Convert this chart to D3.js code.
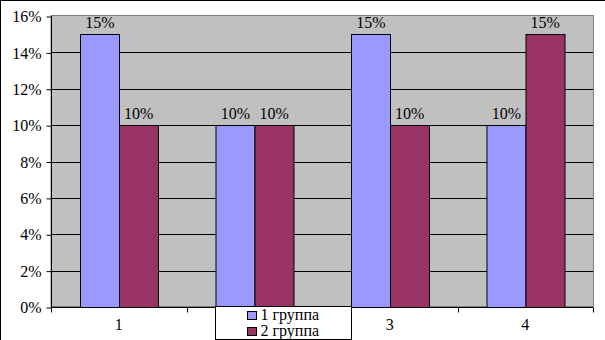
<!DOCTYPE html>
<html>
<head>
<meta charset="utf-8">
<script src="https://cdn.jsdelivr.net/npm/d3@7"></script>
<style>
  body { margin: 0; background: #fff; }
  text { font-family: 'Liberation Serif'; font-size: 16px; }
</style>
</head>
<body>
<div id="chart"></div>
<script>
// data
var categories = ["1", "2", "3", "4"];
var seriesNames = ["1 группа", "2 группа"];
var group1 = [0.15, 0.10, 0.15, 0.10];
var group2 = [0.10, 0.10, 0.10, 0.15];
var yTicks = [0, 0.02, 0.04, 0.06, 0.08, 0.10, 0.12, 0.14, 0.16];
var colors = ["#9999ff", "#993366"];

var width = 605, height = 340;
var plot = { left: 51, right: 593, top: 16, bottom: 307 };

var svg = d3.select("#chart").append("svg")
    .attr("width", width)
    .attr("height", height);

// outer border
svg.append("rect")
    .attr("x", 0.5).attr("y", 0.5)
    .attr("width", width + 10).attr("height", height + 10)
    .attr("fill", "#fff")
    .attr("stroke", "#000");

var x = d3.scaleBand()
    .domain(categories)
    .range([plot.left, plot.right]);

var x1 = d3.scaleBand()
    .domain([0, 1])
    .range([0, x.bandwidth()])
    .paddingOuter(0.75);

var y = d3.scaleLinear()
    .domain([0, 0.16])
    .range([plot.bottom, plot.top]);

// plot area
svg.append("rect")
    .attr("x", plot.left).attr("y", plot.top - 0.5)
    .attr("width", plot.right - plot.left + 0.5)
    .attr("height", plot.bottom - plot.top)
    .attr("fill", "#c0c0c0")
    .attr("stroke", "#808080");

// gridlines
svg.append("g")
    .selectAll("line")
    .data(yTicks.slice(1, -1))
    .join("line")
    .attr("x1", plot.left).attr("x2", plot.right)
    .attr("y1", d => Math.round(y(d)) + 0.5)
    .attr("y2", d => Math.round(y(d)) + 0.5)
    .attr("stroke", "#000");

// bars
var rows = categories.map((c, i) => [group1[i], group2[i]]);
var gCat = svg.append("g").selectAll("g")
    .data(rows)
    .join("g")
    .attr("transform", (d, i) => `translate(${x(categories[i])},0)`);

gCat.selectAll("rect")
    .data(d => d)
    .join("rect")
    .attr("x", (d, j) => Math.round(x1(j)) + 0.5)
    .attr("y", d => Math.round(y(d)) + 0.5)
    .attr("width", Math.round(x1.bandwidth()))
    .attr("height", d => Math.round(y(0)) - Math.round(y(d)))
    .attr("fill", (d, j) => colors[j])
    .attr("stroke", "#000");

gCat.selectAll("text")
    .data(d => d)
    .join("text")
    .attr("x", (d, j) => x1(j) + x1.bandwidth() / 2 + 0.5)
    .attr("y", d => y(d) - 6)
    .attr("text-anchor", "middle")
    .text(d => d3.format(".0%")(d));

// y axis
var yAxis = d3.axisLeft(y)
    .tickValues(yTicks)
    .tickFormat(d3.format(".0%"))
    .tickSize(5)
    .tickPadding(5);

var gy = svg.append("g")
    .attr("transform", `translate(${plot.left + 0.5},0.5)`)
    .call(yAxis);
gy.select(".domain").attr("d", `M0,${plot.top - 0.5}V${plot.bottom - 0.5}`);
gy.selectAll("text").attr("fill", "#000");

// x axis
var xAxis = d3.axisBottom(x)
    .tickSize(0)
    .tickPadding(11);

var gx = svg.append("g")
    .attr("transform", `translate(0,${plot.bottom + 0.5})`)
    .call(xAxis);
gx.select(".domain").attr("d", `M${plot.left},0H${plot.right}`);
gx.selectAll("text").attr("fill", "#000");

// x tick marks at category boundaries
var boundaries = categories.map(c => x(c)).concat([plot.right]);
gx.append("g").selectAll("line")
    .data(boundaries)
    .join("line")
    .attr("x1", d => Math.round(d) + 0.5).attr("x2", d => Math.round(d) + 0.5)
    .attr("y1", 0).attr("y2", 5)
    .attr("stroke", "#000");

// legend
var legend = svg.append("g").attr("transform", "translate(215.5,306.5)");
legend.append("rect")
    .attr("width", 136).attr("height", 33)
    .attr("fill", "#fff").attr("stroke", "#000");

var items = legend.selectAll("g.item")
    .data(seriesNames)
    .join("g")
    .attr("class", "item")
    .attr("transform", (d, i) => `translate(32,${5 + i * 16})`);

items.append("rect")
    .attr("width", 9).attr("height", 8)
    .attr("fill", (d, i) => colors[i])
    .attr("stroke", "#000");

items.append("text")
    .attr("x", 13).attr("y", 8)
    .text(d => d);
</script>
</body>
</html>
